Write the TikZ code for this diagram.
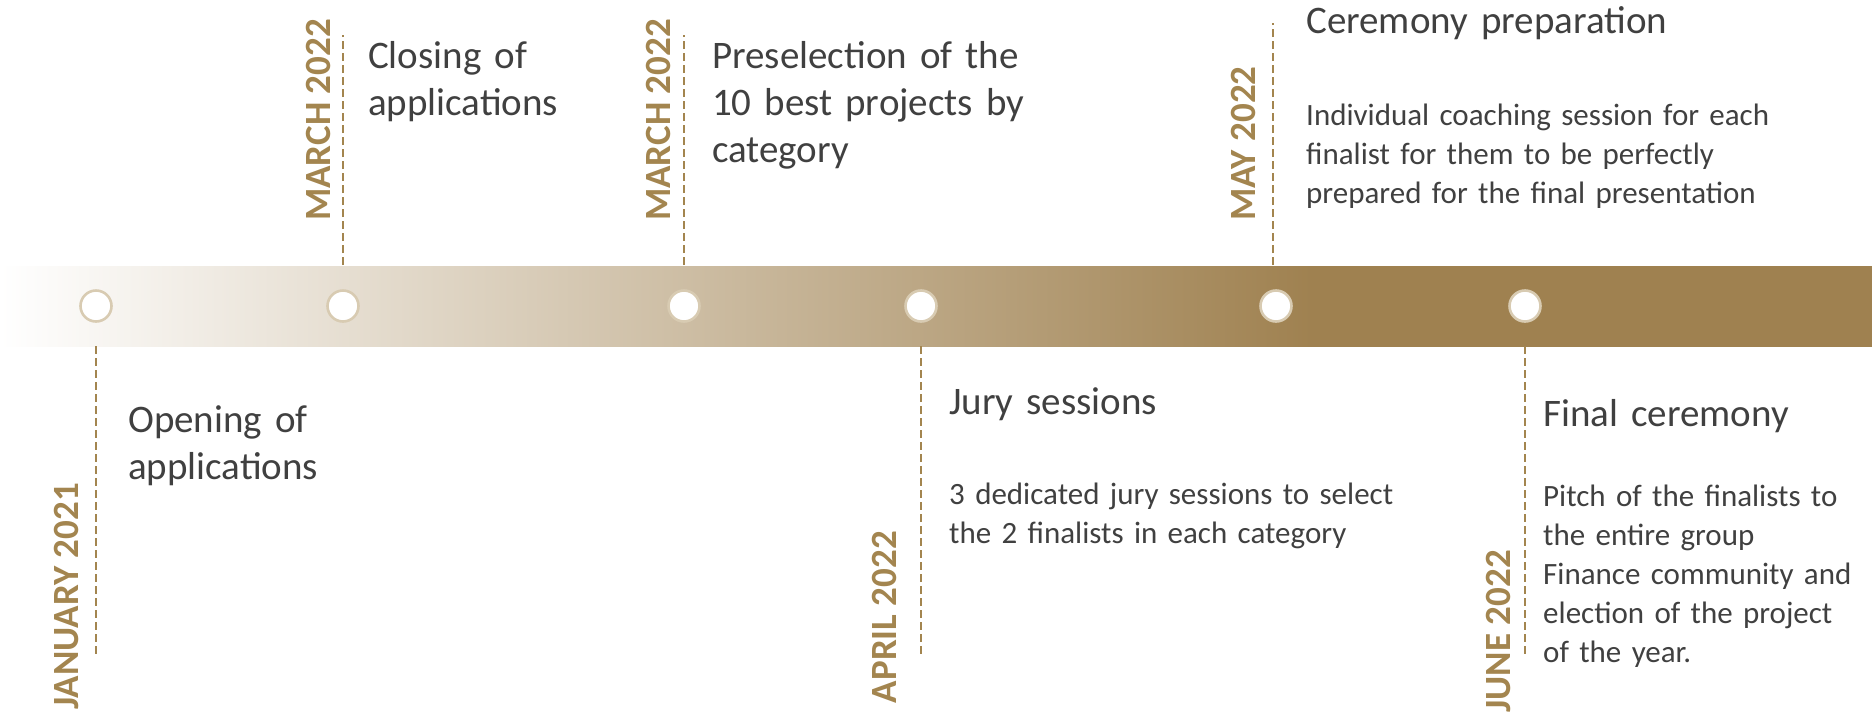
\documentclass[tikz,border=0pt]{standalone}
\usepackage{fontspec}
\setmainfont{Carlito}
\definecolor{gold}{HTML}{9F8150}
\definecolor{goldtxt}{HTML}{A3854F}
\definecolor{ring}{HTML}{D8CBB2}
\definecolor{txt}{HTML}{404040}
\pgfdeclarehorizontalshading{bandshade}{100bp}{color(0bp)=(white); color(25bp)=(white); color(60.07bp)=(gold); color(100bp)=(gold)}
\begin{document}
\begin{tikzpicture}[x=1pt,y=-1pt,
  dot/.style={circle,minimum size=31pt,inner sep=0pt,fill=white,draw=ring,line width=2.6pt},
  dashline/.style={draw=goldtxt,line width=1.8pt,dash pattern=on 8pt off 4pt},
  datelbl/.style={font=\bfseries\fontsize{37}{44}\selectfont,text=goldtxt,rotate=90,inner sep=0pt},
  ttl/.style={font=\fontsize{39}{47}\selectfont,text=txt,inner sep=0pt,align=left,text width=560pt},
  body/.style={font=\fontsize{31}{39}\selectfont,text=txt,inner sep=0pt,align=left,text width=560pt}]
\useasboundingbox (0,0) rectangle (1872,713);
\clip (0,0) rectangle (1872,713);
% band
\shade[shading=bandshade] (0,266) rectangle (1872,346);
% circles
\node[dot] (c1) at (96,306) {};
\node[dot] (c2) at (343,306) {};
\node[dot] (c3) at (684,306) {};
\node[dot] (c4) at (921,306) {};
\node[dot] (c5) at (1276,306) {};
\node[dot] (c6) at (1525,306) {};
% dashed leaders
\coordinate (d1a) at (96,346);   \coordinate (d1b) at (96,657);
\coordinate (d2a) at (343,265);  \coordinate (d2b) at (343,35);
\coordinate (d3a) at (684,265);  \coordinate (d3b) at (684,35);
\coordinate (d4a) at (921,346);  \coordinate (d4b) at (921,657);
\coordinate (d5a) at (1273,265); \coordinate (d5b) at (1273,23);
\coordinate (d6a) at (1525,346); \coordinate (d6b) at (1525,657);
\draw[dashline] (d1a) -- (d1b);
\draw[dashline] (d2a) -- (d2b);
\draw[dashline] (d3a) -- (d3b);
\draw[dashline] (d4a) -- (d4b);
\draw[dashline] (d5a) -- (d5b);
\draw[dashline] (d6a) -- (d6b);
% dates
\node[datelbl,anchor=base east] (dt1) at (78,483) {JANUARY 2021};
\node[datelbl,anchor=base west] (dt2) at (330,221) {MARCH 2022};
\node[datelbl,anchor=base west] (dt3) at (670,221) {MARCH 2022};
\node[datelbl,anchor=base east] (dt4) at (896,531) {APRIL 2022};
\node[datelbl,anchor=base west] (dt5) at (1255,221) {MAY 2022};
\node[datelbl,anchor=base east] (dt6) at (1510,550) {JUNE 2022};
% titles
\node[ttl,anchor=base west] (t1) at (128,432) {Opening of\\applications};
\node[ttl,anchor=base west] (t2) at (368,68) {Closing of\\applications};
\node[ttl,anchor=base west] (t3) at (712,68) {Preselection of the\\10 best projects by\\category};
\node[ttl,anchor=base west] (t5) at (1306,33) {Ceremony preparation};
\node[body,anchor=base west] (b5) at (1306,125) {Individual coaching session for each\\finalist for them to be perfectly\\prepared for the final presentation};
\node[ttl,anchor=base west] (t4) at (949,414) {Jury sessions};
\node[body,anchor=base west] (b4) at (949,504) {3 dedicated jury sessions to select\\the 2 finalists in each category};
\node[ttl,anchor=base west] (t6) at (1543,426) {Final ceremony};
\node[body,anchor=base west] (b6) at (1543,506) {Pitch of the finalists to\\the entire group\\Finance community and\\election of the project\\of the year.};
\end{tikzpicture}
\end{document}
